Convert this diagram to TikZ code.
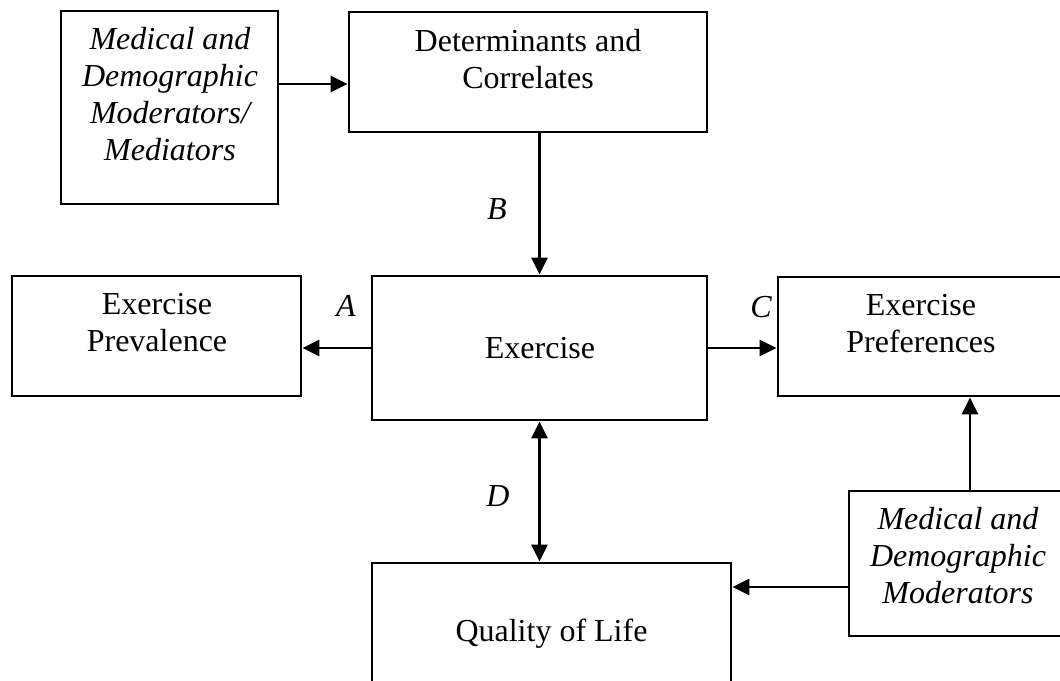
\documentclass[tikz,border=0pt]{standalone}
\usepackage{fontspec}
\setmainfont{Liberation Serif}
\usetikzlibrary{arrows.meta,calc}
\begin{document}
\begin{tikzpicture}[x=1pt,y=-1pt,
  box/.style={draw,line width=2.8pt,rectangle,inner sep=0pt},
  txt/.style={align=center,inner sep=0pt,font=\fontsize{32}{37}\selectfont},
  itxt/.style={align=center,inner sep=0pt,font=\fontsize{32}{37}\selectfont\itshape},
  lbl/.style={inner sep=0pt,font=\fontsize{32}{37}\selectfont\itshape},
  arr/.style={line width=2.8pt,-{Triangle[length=17pt,width=16pt]}},
  darr/.style={line width=2.8pt,{Triangle[length=17pt,width=16pt]}-{Triangle[length=17pt,width=16pt]}}]
\useasboundingbox (0,0) rectangle (1060,680);

% boxes
\node[box,minimum width=217pt,minimum height=193pt] (tl) at (169.5,107.5) {};
\node[box,minimum width=358pt,minimum height=120pt] (det) at (528,72) {};
\node[box,minimum width=289pt,minimum height=120pt] (prev) at (156.5,336) {};
\node[box,minimum width=335pt,minimum height=144pt] (ex) at (539.5,348) {};
\node[box,minimum width=290pt,minimum height=119pt] (pref) at (923,336.5) {};
\node[box,minimum width=219pt,minimum height=145pt] (mod) at (958.5,563.5) {};
\node[box,minimum width=359pt,minimum height=137pt] (qol) at (551.5,631.5) {};

% texts
\node[itxt] (tltext) at (170,94.5) {Medical and\\Demographic\\Moderators/\\Mediators};
\node[txt] (dettext) at (528,59.5) {Determinants and\\Correlates};
\node[txt] (prevtext) at (157,323) {Exercise\\Prevalence};
\node[txt] (extext) at (540,348) {Exercise};
\node[txt] (preftext) at (921,324) {Exercise\\Preferences};
\node[itxt] (modtext) at (958,556) {Medical and\\Demographic\\Moderators};
\node[txt] (qoltext) at (551.5,633.5) {Quality of Life};

% labels
\node[lbl] (la) at (346,306) {A};
\node[lbl] (lb) at (497,209) {B};
\node[lbl] (lc) at (761,307) {C};
\node[lbl] (ld) at (498,496) {D};

% connectors
\draw[arr] ([yshift=23.5pt]tl.east) -- ([yshift=23.5pt]tl.east -| det.west);
\draw[arr] (ex.north |- det.south) -- (ex.north);
\draw[arr] (ex.west) -- (ex.west -| prev.east);
\draw[arr] (ex.east) -- (ex.east -| pref.west);
\draw[darr] (ex.south) -- (ex.south |- qol.north);
\coordinate (mu) at ([xshift=11.5pt]mod.north);
\draw[arr] (mu) -- (mu |- pref.south);
\coordinate (ml) at ([yshift=-23.5pt]mod.west);
\draw[arr] (ml) -- (ml -| qol.east);
\end{tikzpicture}
\end{document}
